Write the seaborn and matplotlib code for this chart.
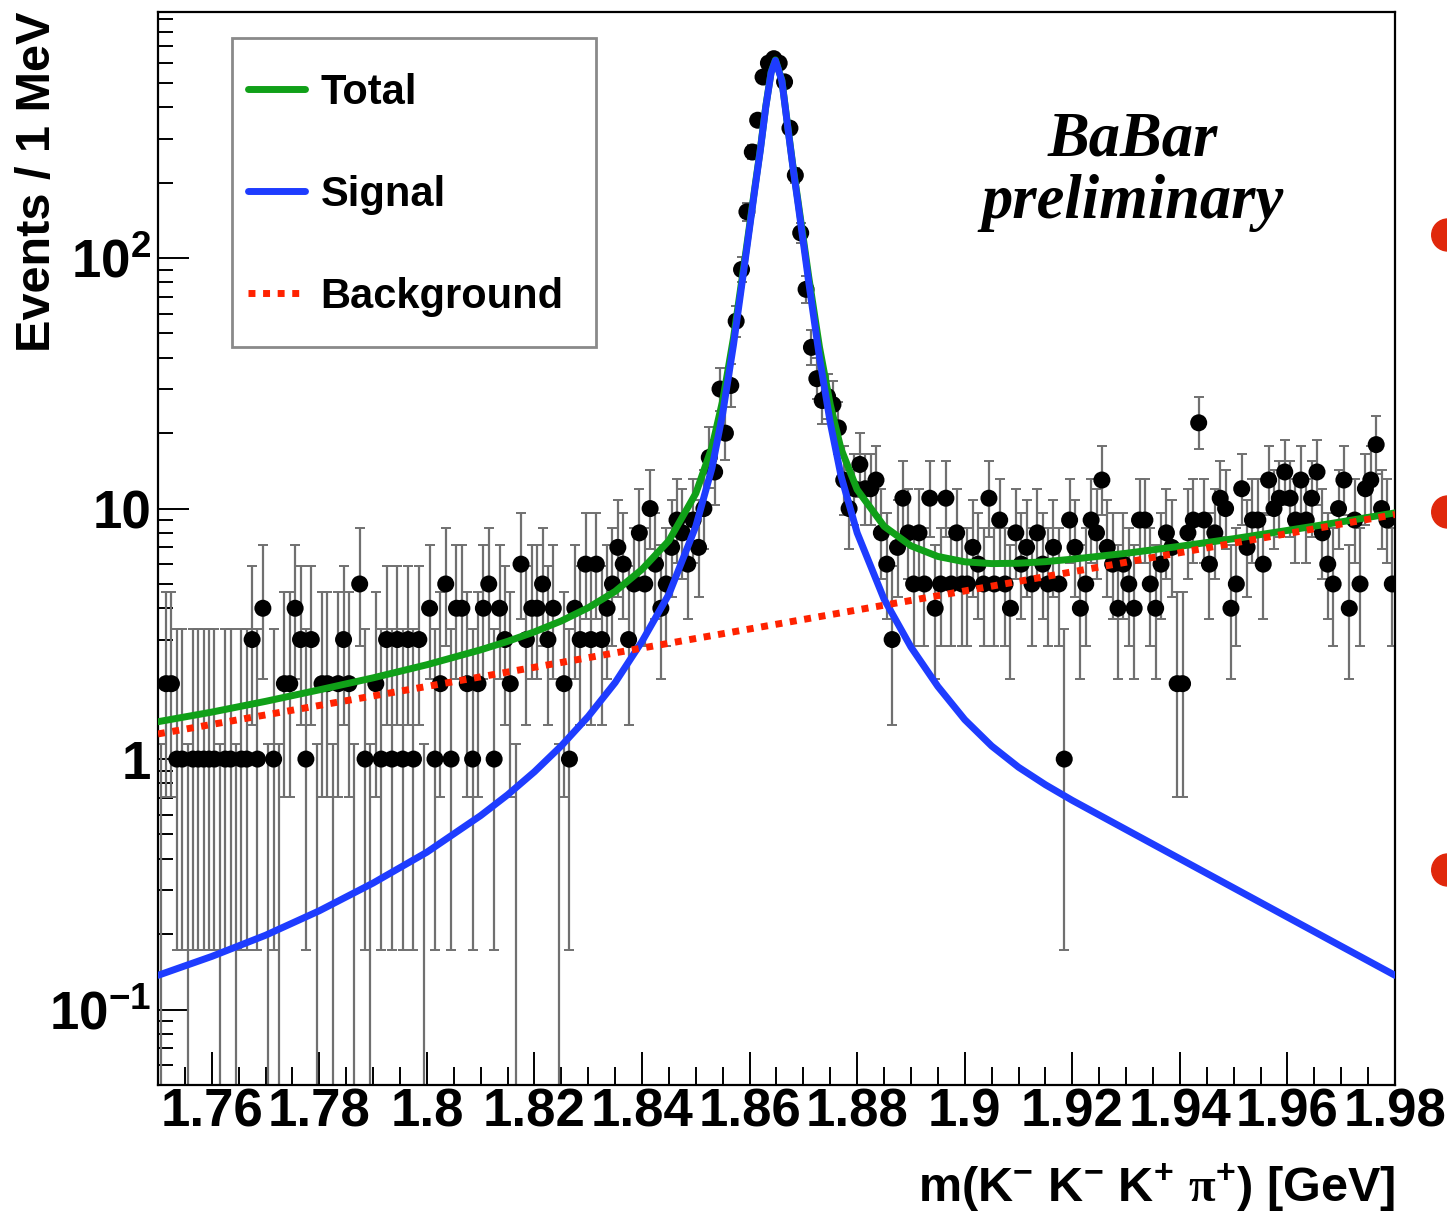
import math
import numpy as np
import pandas as pd
import matplotlib
matplotlib.use("Agg")
import matplotlib.pyplot as plt
from matplotlib.lines import Line2D
from matplotlib.patches import Ellipse, Rectangle
from matplotlib.ticker import (MultipleLocator, LogLocator, FixedLocator,
                               FixedFormatter, NullFormatter, FuncFormatter)
import seaborn as sns

# events per 1 MeV bin, m from 1.750 to 1.980 GeV (230 bins)
counts = [
    0, 2, 2, 1, 1, 0, 1, 1, 1, 1,
    1, 0, 1, 1, 0, 1, 1, 3, 1, 4,
    0, 1, 0, 2, 2, 4, 3, 1, 3, 0,
    2, 2, 0, 2, 3, 2, 0, 5, 1, 0,
    2, 1, 3, 1, 3, 1, 3, 1, 3, 0,
    4, 1, 2, 5, 1, 4, 4, 2, 1, 2,
    4, 5, 1, 4, 3, 2, 0, 6, 3, 4,
    4, 5, 3, 4, 0, 2, 1, 4, 3, 6,
    3, 6, 3, 4, 5, 7, 6, 3, 5, 8,
    5, 10, 6, 4, 5, 7, 9, 8, 6, 9,
    7, 10, 16, 14, 30, 20, 31, 56, 90, 153,
    265, 355, 528, 600, 625, 600, 505, 330, 214, 126,
    75, 44, 33, 27, 28, 26, 21, 13, 10, 12,
    15, 12, 12, 13, 8, 6, 3, 7, 11, 8,
    5, 8, 5, 11, 4, 5, 11, 5, 8, 5,
    5, 7, 6, 5, 11, 5, 9, 5, 4, 8,
    6, 7, 5, 8, 6, 5, 7, 5, 1, 9,
    7, 4, 5, 9, 8, 13, 7, 6, 4, 6,
    5, 4, 9, 9, 5, 4, 6, 8, 7, 2,
    2, 8, 9, 22, 9, 6, 8, 11, 10, 4,
    5, 12, 7, 9, 9, 6, 13, 10, 11, 14,
    11, 9, 13, 9, 11, 14, 8, 6, 5, 10,
    13, 4, 9, 5, 12, 13, 18, 10, 9, 5,
]
m_lo, bin_w = 1.750, 0.001

# fit curves
curve_m = [1.750, 1.760, 1.770, 1.780, 1.790, 1.800, 1.810, 1.815, 1.820,
           1.825, 1.830, 1.835, 1.840, 1.845, 1.850, 1.853, 1.855, 1.857,
           1.859, 1.861, 1.862, 1.863, 1.864, 1.8648, 1.866, 1.867, 1.868,
           1.869, 1.871, 1.873, 1.875, 1.877, 1.880, 1.885, 1.890, 1.895,
           1.900, 1.905, 1.910, 1.915, 1.920, 1.930, 1.940, 1.950, 1.960,
           1.970, 1.980]
signal = [0.137, 0.163, 0.198, 0.248, 0.32, 0.425, 0.595, 0.72, 0.89,
          1.13, 1.48, 2.02, 2.95, 4.55, 8.5, 14.5, 24, 45,
          92, 190, 270, 400, 550, 615, 510, 345, 235,
          165, 80, 40, 22, 13.5, 8.0, 4.35, 2.8, 1.95,
          1.437, 1.128, 0.928, 0.79, 0.684, 0.523, 0.40, 0.306, 0.234,
          0.179, 0.137]
total = [1.41, 1.54, 1.70, 1.89, 2.11, 2.38, 2.73, 2.95, 3.22,
         3.56, 4.02, 4.67, 5.72, 7.45, 11.5, 17.6, 27, 48,
         95, 193, 273, 403, 553, 618, 513, 348, 238,
         169, 84, 44, 26, 17.3, 11.9, 8.5, 7.1, 6.44,
         6.13, 6.03, 6.05, 6.14, 6.28, 6.63, 7.07, 7.58, 8.18,
         8.85, 9.61]
bkg_m = [1.75, 1.80, 1.85, 1.90, 1.95, 1.98]
background = [1.26, 1.95, 3.03, 4.69, 7.28, 9.47]


def poisson_interval(n, cl=0.6827):
    # central Poisson interval, empty bins get the one-sided upper limit
    if n == 0:
        return 0.0, -math.log(1 - cl)
    tail = (1 - cl) / 2

    def cdf(k, mu):
        return sum(math.exp(j * math.log(mu) - mu - math.lgamma(j + 1)) for j in range(k + 1))

    def solve(k, target):
        lo, hi = 1e-9, n + 10 * math.sqrt(n) + 10
        for _ in range(60):
            mid = 0.5 * (lo + hi)
            if cdf(k, mid) > target:
                lo = mid
            else:
                hi = mid
        return 0.5 * (lo + hi)

    return solve(n - 1, 1 - tail), solve(n, tail)


df = pd.DataFrame({"n": counts})
df["m"] = m_lo + bin_w * (df.index + 0.5)
lims = [poisson_interval(n) for n in df["n"]]
df["lo"] = [max(a, 1e-3) for a, b in lims]
df["hi"] = [b for a, b in lims]
df["y"] = df["n"].where(df["n"] > 0, 1e-3)

sns.set_style("ticks")
plt.rcParams["font.family"] = ["Liberation Sans", "DejaVu Sans"]
plt.rcParams["font.weight"] = "bold"
plt.rcParams["mathtext.fontset"] = "custom"
plt.rcParams["mathtext.rm"] = "Liberation Sans:bold"
plt.rcParams["mathtext.bf"] = "Liberation Sans:bold"
plt.rcParams["mathtext.it"] = "Liberation Sans:bold:italic"
plt.rcParams["mathtext.sf"] = "Liberation Serif"
for key in ["text.color", "axes.labelcolor", "xtick.color", "ytick.color", "axes.edgecolor"]:
    plt.rcParams[key] = "black"

fig = plt.figure(figsize=(14.47, 12.14), dpi=100)
ax = fig.add_axes([0.10919, 0.10626, 0.85487, 0.88386])
ax.set_yscale("log")

ax.errorbar(df["m"], df["y"], yerr=[df["y"] - df["lo"], df["hi"] - df["y"]],
            fmt="none", ecolor="#707070", elinewidth=1.6, capsize=3.5,
            capthick=1.4, zorder=2)
sns.scatterplot(data=df[df["n"] > 0], x="m", y="n", ax=ax, color="black",
                s=150, edgecolor="none", zorder=3, legend=False)

green, blue, red = "#10a018", "#1e3cff", "#ff2200"
sns.lineplot(x=curve_m, y=total, ax=ax, color=green, lw=5, sort=False,
             estimator=None, zorder=4)
sns.lineplot(x=curve_m, y=signal, ax=ax, color=blue, lw=5, sort=False,
             estimator=None, zorder=5)
sns.lineplot(x=bkg_m, y=background, ax=ax, color=red, lw=5, sort=False,
             estimator=None, zorder=6, linestyle=(0, (1, 1.1)))

ax.set_xlim(1.75, 1.98)
ax.set_ylim(0.05, 960)

ax.xaxis.set_major_locator(MultipleLocator(0.02))
ax.xaxis.set_minor_locator(MultipleLocator(0.005))
ax.xaxis.set_major_formatter(FuncFormatter(lambda v, p: f"{v:g}"))
ax.yaxis.set_major_locator(FixedLocator([0.1, 1, 10, 100]))
ax.yaxis.set_major_formatter(FixedFormatter([r"$10^{-1}$", "1", "10", r"$10^{2}$"]))
ax.yaxis.set_minor_locator(LogLocator(base=10, subs=np.arange(2, 10)))
ax.yaxis.set_minor_formatter(NullFormatter())

ax.tick_params(axis="x", which="major", direction="in", length=24, width=1.4,
               labelsize=38, pad=2, top=False)
ax.tick_params(axis="x", which="minor", direction="in", length=13, width=1.4, top=False)
ax.tick_params(axis="y", which="major", direction="in", length=22, width=1.4,
               labelsize=38, pad=5, right=False)
ax.tick_params(axis="y", which="minor", direction="in", length=11, width=1.4, right=False)
for s in ax.spines.values():
    s.set_linewidth(1.6)

ax.set_ylabel("Events / 1 MeV", fontsize=35, fontweight="bold", loc="top")
ax.yaxis.set_label_coords(-0.079, 1.0)
ax.set_xlabel(r"m(K$^{-}$ K$^{-}$ K$^{+}$ $\mathsf{\pi}^{+}$) [GeV]",
              fontsize=35, fontweight="bold", loc="right")
ax.xaxis.set_label_coords(1.0, -0.071)

# legend box drawn separately so the padding can follow the original
ax.add_patch(Rectangle((0.0598, 0.6878), 0.2943, 0.288, transform=ax.transAxes,
                       facecolor="white", edgecolor="#8a8a8a", lw=2, zorder=7))
handles = [Line2D([], [], color=green, lw=5),
           Line2D([], [], color=blue, lw=5),
           Line2D([], [], color=red, lw=5, linestyle=(0, (1, 1.1)))]
leg = ax.legend(handles, ["Total", "Signal", "Background"], loc="upper left",
                bbox_to_anchor=(0.0545, 0.9646), borderaxespad=0, frameon=False,
                fontsize=30, handlelength=1.35, handletextpad=0.38,
                labelspacing=1.49, borderpad=0.55)
leg.set_zorder(8)

ax.text(0.788, 0.880, "BaBar", transform=ax.transAxes, ha="center", va="center",
        family="Liberation Serif", style="italic", weight="bold", fontsize=45)
ax.text(0.788, 0.822, "preliminary", transform=ax.transAxes, ha="center", va="center",
        family="Liberation Serif", style="italic", weight="bold", fontsize=45)

# slide bullets at the right edge
for yb in [235, 512, 870]:
    fig.add_artist(Ellipse((1.0005, 1 - yb / 1214), 32 / 1447, 32 / 1214,
                           color="#e0280c", transform=fig.transFigure, clip_on=False))

fig.savefig("out.png", dpi=100, facecolor="white")
